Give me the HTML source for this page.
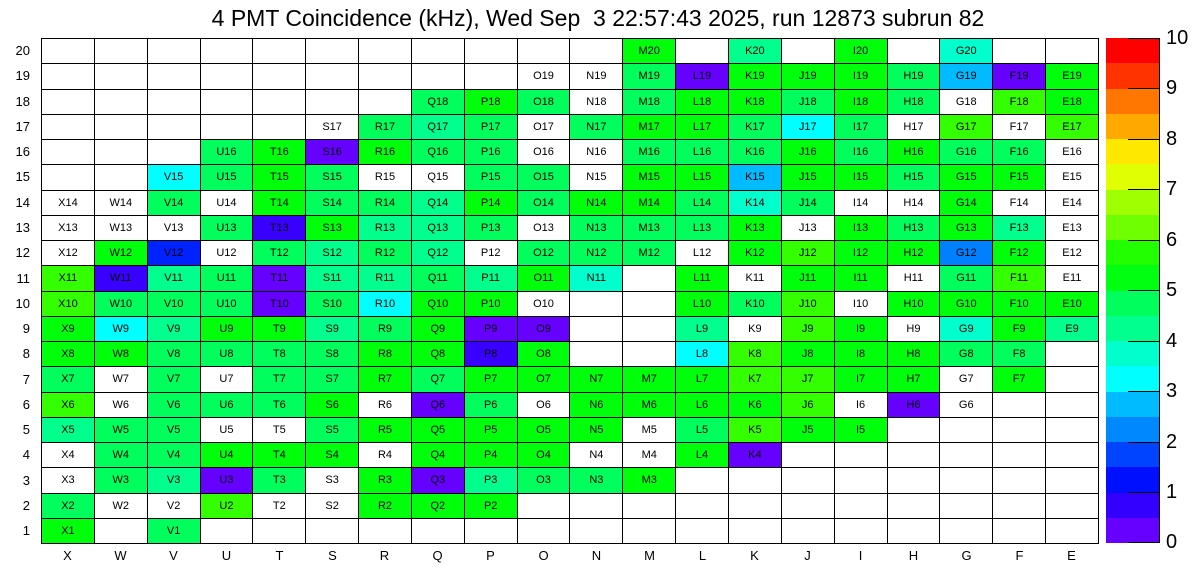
<!DOCTYPE html>
<html><head><meta charset="utf-8"><style>
body{margin:0;width:1196px;height:572px;background:#fff;position:relative;overflow:hidden;font-family:"Liberation Sans",Arial,sans-serif}
#t{position:absolute;left:0;width:1196px;top:5px;text-align:center;font-size:23px;white-space:pre}
table{position:absolute;left:41px;top:38px;width:1058px;height:506px;border-collapse:collapse;table-layout:fixed}
td{border:1px solid #000;text-align:center;font-size:11px;padding:0;height:24.25px;background:#fff;color:#000}
.a{background:#00ff5c}.b{background:#00ff0a}.c{background:#33ff00}.d{background:#00ff8c}.e{background:#00ffcc}.f{background:#00ffff}.g{background:#00bbff}.h{background:#0080ff}.p{background:#6600ff}.q{background:#3a00ff}.r{background:#0022ff}
.rl{position:absolute;left:0;width:30px;text-align:right;font-size:13px}
.cl{position:absolute;top:548px;width:53px;text-align:center;font-size:13px}
#cb{position:absolute;left:1106px;top:38px;width:54px;height:505px;border-right:1px solid #000;box-sizing:border-box}
#cb div{height:25.25px}
.tk{position:absolute;left:1128px;width:32px;height:1px;background:#000}
.tl{position:absolute;left:1166px;font-size:20px}
</style></head><body>
<div id="t">4 PMT Coincidence (kHz), Wed Sep  3 22:57:43 2025, run 12873 subrun 82</div>
<table>
<tr><td></td><td></td><td></td><td></td><td></td><td></td><td></td><td></td><td></td><td></td><td></td><td class="b">M20</td><td></td><td class="d">K20</td><td></td><td class="b">I20</td><td></td><td class="e">G20</td><td></td><td></td></tr>
<tr><td></td><td></td><td></td><td></td><td></td><td></td><td></td><td></td><td></td><td>O19</td><td>N19</td><td class="a">M19</td><td class="p">L19</td><td class="b">K19</td><td class="b">J19</td><td class="b">I19</td><td class="a">H19</td><td class="g">G19</td><td class="p">F19</td><td class="b">E19</td></tr>
<tr><td></td><td></td><td></td><td></td><td></td><td></td><td></td><td class="a">Q18</td><td class="b">P18</td><td class="a">O18</td><td>N18</td><td class="a">M18</td><td class="b">L18</td><td class="b">K18</td><td class="a">J18</td><td class="b">I18</td><td class="a">H18</td><td>G18</td><td class="c">F18</td><td class="b">E18</td></tr>
<tr><td></td><td></td><td></td><td></td><td></td><td>S17</td><td class="a">R17</td><td class="d">Q17</td><td class="a">P17</td><td>O17</td><td class="a">N17</td><td class="b">M17</td><td class="b">L17</td><td class="a">K17</td><td class="f">J17</td><td class="a">I17</td><td>H17</td><td class="c">G17</td><td>F17</td><td class="c">E17</td></tr>
<tr><td></td><td></td><td></td><td class="a">U16</td><td class="b">T16</td><td class="p">S16</td><td class="b">R16</td><td class="a">Q16</td><td class="a">P16</td><td>O16</td><td>N16</td><td class="a">M16</td><td class="a">L16</td><td class="a">K16</td><td class="b">J16</td><td class="a">I16</td><td class="b">H16</td><td class="a">G16</td><td class="a">F16</td><td>E16</td></tr>
<tr><td></td><td></td><td class="f">V15</td><td class="a">U15</td><td class="b">T15</td><td class="a">S15</td><td>R15</td><td>Q15</td><td class="a">P15</td><td class="a">O15</td><td>N15</td><td class="b">M15</td><td class="b">L15</td><td class="g">K15</td><td class="b">J15</td><td class="b">I15</td><td class="a">H15</td><td class="b">G15</td><td class="b">F15</td><td>E15</td></tr>
<tr><td>X14</td><td>W14</td><td class="a">V14</td><td>U14</td><td class="b">T14</td><td class="a">S14</td><td class="a">R14</td><td class="d">Q14</td><td class="b">P14</td><td class="a">O14</td><td class="b">N14</td><td class="b">M14</td><td class="a">L14</td><td class="e">K14</td><td class="a">J14</td><td>I14</td><td>H14</td><td class="b">G14</td><td>F14</td><td>E14</td></tr>
<tr><td>X13</td><td>W13</td><td>V13</td><td class="a">U13</td><td class="q">T13</td><td class="b">S13</td><td class="d">R13</td><td class="d">Q13</td><td class="a">P13</td><td>O13</td><td class="a">N13</td><td class="a">M13</td><td class="a">L13</td><td class="b">K13</td><td>J13</td><td class="b">I13</td><td class="a">H13</td><td class="b">G13</td><td class="d">F13</td><td>E13</td></tr>
<tr><td>X12</td><td class="b">W12</td><td class="r">V12</td><td>U12</td><td class="a">T12</td><td class="d">S12</td><td class="a">R12</td><td class="d">Q12</td><td>P12</td><td class="a">O12</td><td class="a">N12</td><td class="a">M12</td><td>L12</td><td class="b">K12</td><td class="c">J12</td><td class="b">I12</td><td class="b">H12</td><td class="h">G12</td><td class="b">F12</td><td>E12</td></tr>
<tr><td class="c">X11</td><td class="q">W11</td><td class="d">V11</td><td class="a">U11</td><td class="p">T11</td><td class="d">S11</td><td class="d">R11</td><td class="a">Q11</td><td class="d">P11</td><td class="b">O11</td><td class="e">N11</td><td></td><td class="b">L11</td><td>K11</td><td class="b">J11</td><td class="b">I11</td><td>H11</td><td class="a">G11</td><td class="c">F11</td><td>E11</td></tr>
<tr><td class="c">X10</td><td class="a">W10</td><td class="a">V10</td><td class="a">U10</td><td class="p">T10</td><td class="a">S10</td><td class="f">R10</td><td class="b">Q10</td><td class="b">P10</td><td>O10</td><td></td><td></td><td class="b">L10</td><td class="a">K10</td><td class="c">J10</td><td>I10</td><td class="b">H10</td><td class="b">G10</td><td class="b">F10</td><td class="b">E10</td></tr>
<tr><td class="b">X9</td><td class="f">W9</td><td class="d">V9</td><td class="b">U9</td><td class="b">T9</td><td class="d">S9</td><td class="a">R9</td><td class="b">Q9</td><td class="p">P9</td><td class="p">O9</td><td></td><td></td><td class="d">L9</td><td>K9</td><td class="c">J9</td><td class="b">I9</td><td>H9</td><td class="e">G9</td><td class="b">F9</td><td class="d">E9</td></tr>
<tr><td class="b">X8</td><td class="b">W8</td><td class="a">V8</td><td class="a">U8</td><td class="a">T8</td><td class="a">S8</td><td class="b">R8</td><td class="b">Q8</td><td class="q">P8</td><td class="b">O8</td><td></td><td></td><td class="f">L8</td><td class="c">K8</td><td class="b">J8</td><td class="b">I8</td><td class="b">H8</td><td class="a">G8</td><td class="a">F8</td><td></td></tr>
<tr><td class="a">X7</td><td>W7</td><td class="a">V7</td><td>U7</td><td class="a">T7</td><td class="a">S7</td><td class="b">R7</td><td class="a">Q7</td><td class="b">P7</td><td class="b">O7</td><td class="b">N7</td><td class="b">M7</td><td class="b">L7</td><td class="c">K7</td><td class="c">J7</td><td class="b">I7</td><td class="b">H7</td><td>G7</td><td class="b">F7</td><td></td></tr>
<tr><td class="c">X6</td><td>W6</td><td class="a">V6</td><td class="a">U6</td><td class="a">T6</td><td class="b">S6</td><td>R6</td><td class="p">Q6</td><td class="a">P6</td><td>O6</td><td class="b">N6</td><td class="b">M6</td><td class="b">L6</td><td class="b">K6</td><td class="c">J6</td><td>I6</td><td class="p">H6</td><td>G6</td><td></td><td></td></tr>
<tr><td class="d">X5</td><td class="a">W5</td><td class="a">V5</td><td>U5</td><td>T5</td><td class="a">S5</td><td class="b">R5</td><td class="b">Q5</td><td class="b">P5</td><td class="b">O5</td><td class="b">N5</td><td>M5</td><td class="a">L5</td><td class="c">K5</td><td class="b">J5</td><td class="b">I5</td><td></td><td></td><td></td><td></td></tr>
<tr><td>X4</td><td class="a">W4</td><td class="a">V4</td><td class="b">U4</td><td class="b">T4</td><td class="b">S4</td><td>R4</td><td class="b">Q4</td><td class="b">P4</td><td class="b">O4</td><td>N4</td><td>M4</td><td class="b">L4</td><td class="p">K4</td><td></td><td></td><td></td><td></td><td></td><td></td></tr>
<tr><td>X3</td><td class="a">W3</td><td class="d">V3</td><td class="p">U3</td><td class="a">T3</td><td>S3</td><td class="b">R3</td><td class="p">Q3</td><td class="d">P3</td><td class="a">O3</td><td class="a">N3</td><td class="b">M3</td><td></td><td></td><td></td><td></td><td></td><td></td><td></td><td></td></tr>
<tr><td class="a">X2</td><td>W2</td><td>V2</td><td class="c">U2</td><td>T2</td><td>S2</td><td class="b">R2</td><td class="b">Q2</td><td class="b">P2</td><td></td><td></td><td></td><td></td><td></td><td></td><td></td><td></td><td></td><td></td><td></td></tr>
<tr><td class="b">X1</td><td></td><td class="a">V1</td><td></td><td></td><td></td><td></td><td></td><td></td><td></td><td></td><td></td><td></td><td></td><td></td><td></td><td></td><td></td><td></td><td></td></tr>
</table>
<div class="rl" style="top:43px">20</div><div class="rl" style="top:68px">19</div><div class="rl" style="top:94px">18</div><div class="rl" style="top:119px">17</div><div class="rl" style="top:144px">16</div><div class="rl" style="top:169px">15</div><div class="rl" style="top:195px">14</div><div class="rl" style="top:220px">13</div><div class="rl" style="top:245px">12</div><div class="rl" style="top:271px">11</div><div class="rl" style="top:296px">10</div><div class="rl" style="top:321px">9</div><div class="rl" style="top:346px">8</div><div class="rl" style="top:372px">7</div><div class="rl" style="top:397px">6</div><div class="rl" style="top:422px">5</div><div class="rl" style="top:447px">4</div><div class="rl" style="top:473px">3</div><div class="rl" style="top:498px">2</div><div class="rl" style="top:523px">1</div>
<div class="cl" style="left:41px">X</div><div class="cl" style="left:94px">W</div><div class="cl" style="left:147px">V</div><div class="cl" style="left:200px">U</div><div class="cl" style="left:253px">T</div><div class="cl" style="left:306px">S</div><div class="cl" style="left:358px">R</div><div class="cl" style="left:411px">Q</div><div class="cl" style="left:464px">P</div><div class="cl" style="left:517px">O</div><div class="cl" style="left:570px">N</div><div class="cl" style="left:623px">M</div><div class="cl" style="left:676px">L</div><div class="cl" style="left:728px">K</div><div class="cl" style="left:781px">J</div><div class="cl" style="left:834px">I</div><div class="cl" style="left:887px">H</div><div class="cl" style="left:940px">G</div><div class="cl" style="left:993px">F</div><div class="cl" style="left:1045px">E</div>
<div id="cb">
<div style="background:#ff0000"></div><div style="background:#ff3300"></div><div style="background:#ff7700"></div><div style="background:#ffa800"></div><div style="background:#ffe800"></div><div style="background:#e0ff00"></div><div style="background:#a0ff00"></div><div style="background:#70ff00"></div><div style="background:#22ff00"></div><div style="background:#00ff10"></div><div style="background:#00ff5c"></div><div style="background:#00ff8c"></div><div style="background:#00ffcc"></div><div style="background:#00ffff"></div><div style="background:#00bbff"></div><div style="background:#0088ff"></div><div style="background:#0044ff"></div><div style="background:#0010ff"></div><div style="background:#3300ff"></div><div style="background:#6600ff"></div>
</div>
<div class="tk" style="top:38px"></div><div class="tk" style="top:88px"></div><div class="tk" style="top:139px"></div><div class="tk" style="top:189px"></div><div class="tk" style="top:240px"></div><div class="tk" style="top:290px"></div><div class="tk" style="top:341px"></div><div class="tk" style="top:391px"></div><div class="tk" style="top:442px"></div><div class="tk" style="top:492px"></div><div class="tk" style="top:542px"></div>
<div class="tl" style="top:27px">10</div><div class="tl" style="top:77px">9</div><div class="tl" style="top:128px">8</div><div class="tl" style="top:178px">7</div><div class="tl" style="top:229px">6</div><div class="tl" style="top:279px">5</div><div class="tl" style="top:330px">4</div><div class="tl" style="top:380px">3</div><div class="tl" style="top:431px">2</div><div class="tl" style="top:481px">1</div><div class="tl" style="top:531px">0</div>
</body></html>
